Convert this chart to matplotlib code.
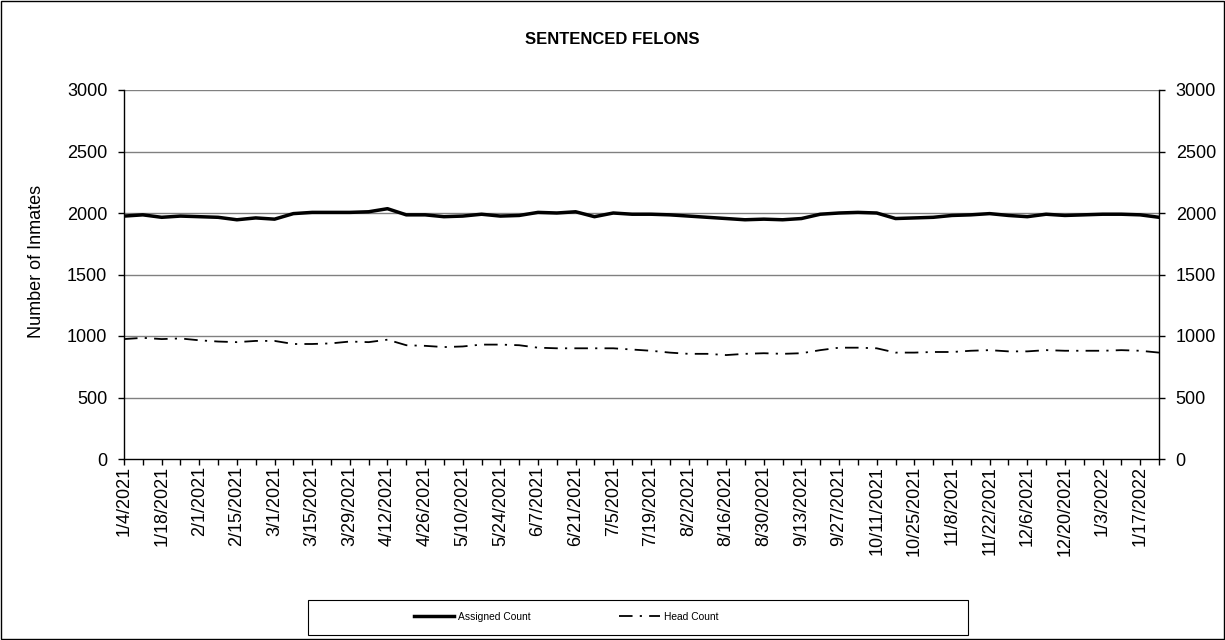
#!/usr/bin/env python

from matplotlib import pyplot as plt
from matplotlib.patches import Rectangle
import pandas as pd

# weekly counts, 1/4/2021 .. 1/24/2022
weeks = pd.date_range('2021-01-04', periods=56, freq='7D')
week_labels = [f'{d.month}/{d.day}/{d.year}' for d in weeks]

assigned_count = [1975, 1985, 1965, 1975, 1970, 1965, 1945, 1960, 1950, 1995,
                  2005, 2005, 2005, 2010, 2035, 1985, 1985, 1970, 1975, 1990,
                  1975, 1980, 2005, 2000, 2010, 1970, 2000, 1990, 1990, 1985,
                  1975, 1965, 1955, 1945, 1950, 1945, 1955, 1990, 2000, 2005,
                  2000, 1955, 1960, 1965, 1980, 1985, 1995, 1980, 1970, 1990,
                  1980, 1985, 1990, 1990, 1985, 1965]

head_count = [975, 985, 975, 980, 965, 955, 950, 960, 960, 935,
              935, 940, 955, 950, 970, 925, 920, 910, 915, 930,
              930, 925, 905, 900, 900, 900, 900, 890, 880, 865,
              855, 855, 845, 855, 860, 855, 860, 885, 905, 905,
              900, 865, 865, 870, 870, 880, 885, 875, 875, 885,
              880, 880, 880, 885, 880, 865]

plt.rcParams['font.family'] = ['Liberation Sans', 'DejaVu Sans']

fig = plt.figure(figsize=(12.25, 6.4), dpi=100)
ax = fig.add_axes([124 / 1225, 1 - 459 / 640, 1035 / 1225, 369 / 640])

x = list(range(len(weeks)))
ax.plot(x, assigned_count, color='black', lw=2.5, label='Assigned Count')
ax.plot(x, head_count, color='black', lw=1.3,
        linestyle=(0, (7.5, 4, 1.2, 4)), label='Head Count')

ax.set_xlim(0, len(weeks) - 1)
ax.set_ylim(0, 3000)
ax.set_yticks(range(0, 3001, 500))
for yv in range(500, 3001, 500):
    ax.axhline(yv, color='#808080', lw=1.0, zorder=0)

ax.set_xticks(x)
ax.set_xticklabels([lab if i % 2 == 0 else '' for i, lab in enumerate(week_labels)],
                   rotation=90, fontsize=13)
ax.tick_params(axis='x', direction='out', length=4, width=1, pad=1)
ax.tick_params(axis='y', direction='out', length=4, width=1, labelsize=13,
               right=True, labelright=True, pad=8)

ax.spines['top'].set_visible(False)
for s in ['left', 'right', 'bottom']:
    ax.spines[s].set_color('black')
    ax.spines[s].set_linewidth(1.0)

fig.text(37 / 1225, 1 - 261 / 640, 'Number of Inmates', rotation=90,
         ha='center', va='center', fontsize=13)

fig.text(0.5, 1 - 40 / 640, 'SENTENCED FELONS', ha='center', va='center',
         fontsize=12, fontweight='bold')

# legend box at the bottom
fig.patches.append(Rectangle((308 / 1225, 1 - 635 / 640), 660 / 1225, 35 / 640,
                             transform=fig.transFigure, fill=False,
                             edgecolor='black', lw=0.8))
fig.legend(loc='center left', bbox_to_anchor=(405 / 1225, 1 - 617 / 640),
           ncol=2, frameon=False, fontsize=7.4, handlelength=3.9,
           handletextpad=0.4, columnspacing=8.6)

# outer border
fig.patches.append(Rectangle((0.0008, 0.0015), 0.9984, 0.997,
                             transform=fig.transFigure, fill=False,
                             edgecolor='black', lw=1.0))

fig.savefig('out.png', dpi=100)
